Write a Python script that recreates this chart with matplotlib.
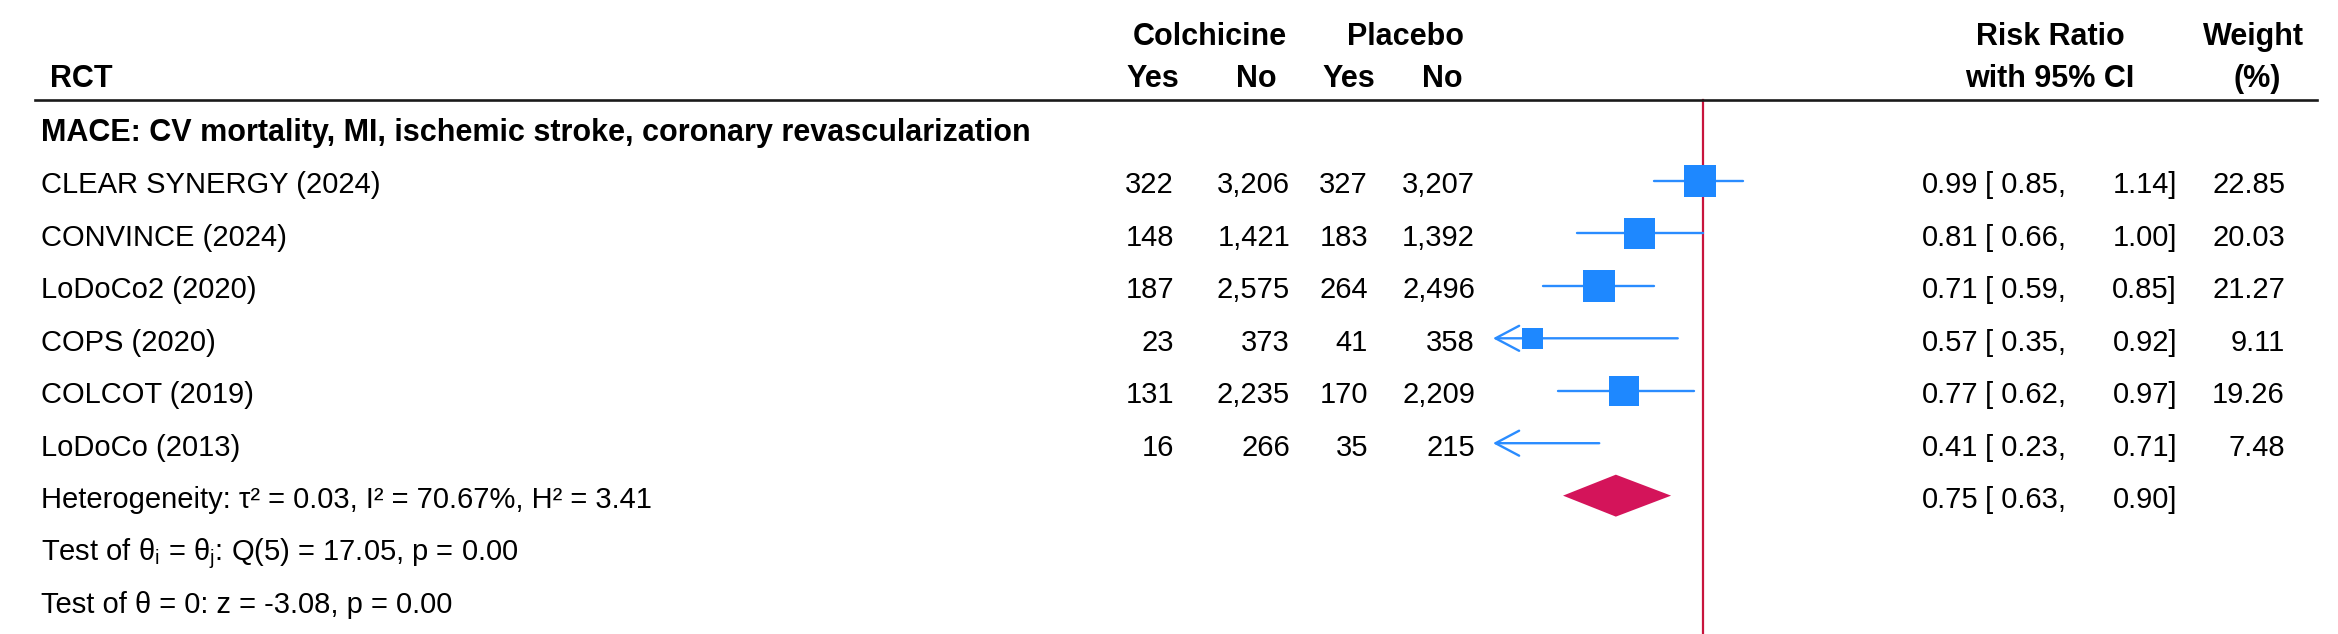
import matplotlib
matplotlib.use("Agg")
import matplotlib.pyplot as plt
from matplotlib.transforms import blended_transform_factory
from matplotlib.lines import Line2D
from matplotlib.patches import Polygon

# ---------------- data ----------------
studies = ["CLEAR SYNERGY (2024)", "CONVINCE (2024)", "LoDoCo2 (2020)",
           "COPS (2020)", "COLCOT (2019)", "LoDoCo (2013)"]
colch_yes = [322, 148, 187, 23, 131, 16]
colch_no = [3206, 1421, 2575, 373, 2235, 266]
plac_yes = [327, 183, 264, 41, 170, 35]
plac_no = [3207, 1392, 2496, 358, 2209, 215]
rr = [0.99, 0.81, 0.71, 0.57, 0.77, 0.41]
rr_lo = [0.85, 0.66, 0.59, 0.35, 0.62, 0.23]
rr_hi = [1.14, 1.00, 0.85, 0.92, 0.97, 0.71]
weight = [22.85, 20.03, 21.27, 9.11, 19.26, 7.48]
pooled_rr, pooled_lo, pooled_hi = 0.75, 0.63, 0.90
group_label = "MACE: CV mortality, MI, ischemic stroke, coronary revascularization"
het_text = "Heterogeneity: \u03c4\u00b2 = 0.03, I\u00b2 = 70.67%, H\u00b2 = 3.41"
q_text = r"Test of θ$_\mathregular{i}$ = θ$_\mathregular{j}$: Q(5) = 17.05, p = 0.00"
z_text = "Test of \u03b8 = 0: z = -3.08, p = 0.00"
xlim = (0.5, 2.0)

# ---------------- style ----------------
plt.rcParams["font.family"] = ["Liberation Sans", "DejaVu Sans"]
plt.rcParams["mathtext.fontset"] = "custom"
plt.rcParams["mathtext.rm"] = "Liberation Sans"
BLUE = "#1E88FF"
BLUE_LINE = "#2A8CFF"
DIAMOND = "#D4145A"
RED = "#C8143C"
FS = 21
FSB = 22

W, H = 2338, 634
ROW0, ROWH, TOP = 128.5, 52.45, 100.0

fig = plt.figure(figsize=(W / 100, H / 100), dpi=100)
ax = fig.add_axes([1493 / W, 0, 420 / W, (H - TOP) / H])
ax.set_xscale("log")
ax.set_xlim(*xlim)
ax.set_ylim((H - ROW0) / ROWH, (TOP - ROW0) / ROWH)
ax.axis("off")


def px2row(py):
    return (py - ROW0) / ROWH


tr = blended_transform_factory(fig.transFigure, ax.transData)
BASE = 0.235  # baseline offset (rows) for row-centred text


def txt(xpx, row, s, ha="left", bold=False, size=None, baseline_row=False):
    y = row if baseline_row else row + BASE
    fig.text(xpx / W, y, s, transform=tr, ha=ha, va="baseline",
             fontsize=size or (FSB if bold else FS),
             fontweight="bold" if bold else "normal", color="black",
             clip_on=False)


# ---------------- headers ----------------
r_top = px2row(45)
r_sub = px2row(87)
txt(50, r_sub, "RCT", bold=True, baseline_row=True)
txt(1210, r_top, "Colchicine", ha="center", bold=True, baseline_row=True)
txt(1405, r_top, "Placebo", ha="center", bold=True, baseline_row=True)
for xc, s in [(1153, "Yes"), (1256, "No"), (1349, "Yes"), (1442, "No")]:
    txt(xc, r_sub, s, ha="center", bold=True, baseline_row=True)
txt(2050, r_top, "Risk Ratio", ha="center", bold=True, baseline_row=True)
txt(2050, r_sub, "with 95% CI", ha="center", bold=True, baseline_row=True)
txt(2253, r_top, "Weight", ha="center", bold=True, baseline_row=True)
txt(2257, r_sub, "(%)", ha="center", bold=True, baseline_row=True)

fig.add_artist(Line2D([35 / W, 2317 / W], [1 - TOP / H] * 2,
                      transform=fig.transFigure, color="#1a1a1a", lw=1.9))

# ---------------- reference line ----------------
ax.axvline(1.0, color=RED, lw=1.6, clip_on=False)

# ---------------- rows ----------------
txt(41, 0, group_label, bold=True)

rows = list(range(1, len(studies) + 1))
for i, k in enumerate(rows):
    txt(41, k, studies[i])
    txt(1174, k, f"{colch_yes[i]:,}", ha="right")
    txt(1290, k, f"{colch_no[i]:,}", ha="right")
    txt(1368, k, f"{plac_yes[i]:,}", ha="right")
    txt(1475, k, f"{plac_no[i]:,}", ha="right")
    txt(1978, k, f"{rr[i]:.2f}", ha="right")
    txt(2066, k, f"[ {rr_lo[i]:.2f},", ha="right")
    txt(2177, k, f"{rr_hi[i]:.2f}]", ha="right")
    txt(2285, k, f"{weight[i]:.2f}", ha="right")

    if rr_lo[i] < xlim[0]:
        ax.annotate("", xy=(xlim[0], k), xytext=(rr_hi[i], k),
                    arrowprops=dict(arrowstyle="->,head_length=0.85,head_width=0.45",
                                    color=BLUE_LINE, lw=1.7, shrinkA=0, shrinkB=0,
                                    mutation_scale=20))
    else:
        ax.hlines(k, rr_lo[i], rr_hi[i], color=BLUE_LINE, lw=1.7,
                  capstyle="round")

ax.scatter(rr, rows, s=[24.5 * w for w in weight], marker="s", color=BLUE,
           linewidths=0, zorder=3, clip_on=True)

# ---------------- pooled ----------------
kp = len(studies) + 1
hh = 0.40
ax.add_patch(Polygon([(pooled_lo, kp), (pooled_rr, kp - hh), (pooled_hi, kp),
                      (pooled_rr, kp + hh)], closed=True, facecolor=DIAMOND,
                     edgecolor="none", zorder=3))
txt(41, kp, het_text)
txt(1978, kp, f"{pooled_rr:.2f}", ha="right")
txt(2066, kp, f"[ {pooled_lo:.2f},", ha="right")
txt(2177, kp, f"{pooled_hi:.2f}]", ha="right")
txt(41, kp + 1, q_text)
txt(41, kp + 2, z_text)

fig.savefig("out.png", dpi=100)
